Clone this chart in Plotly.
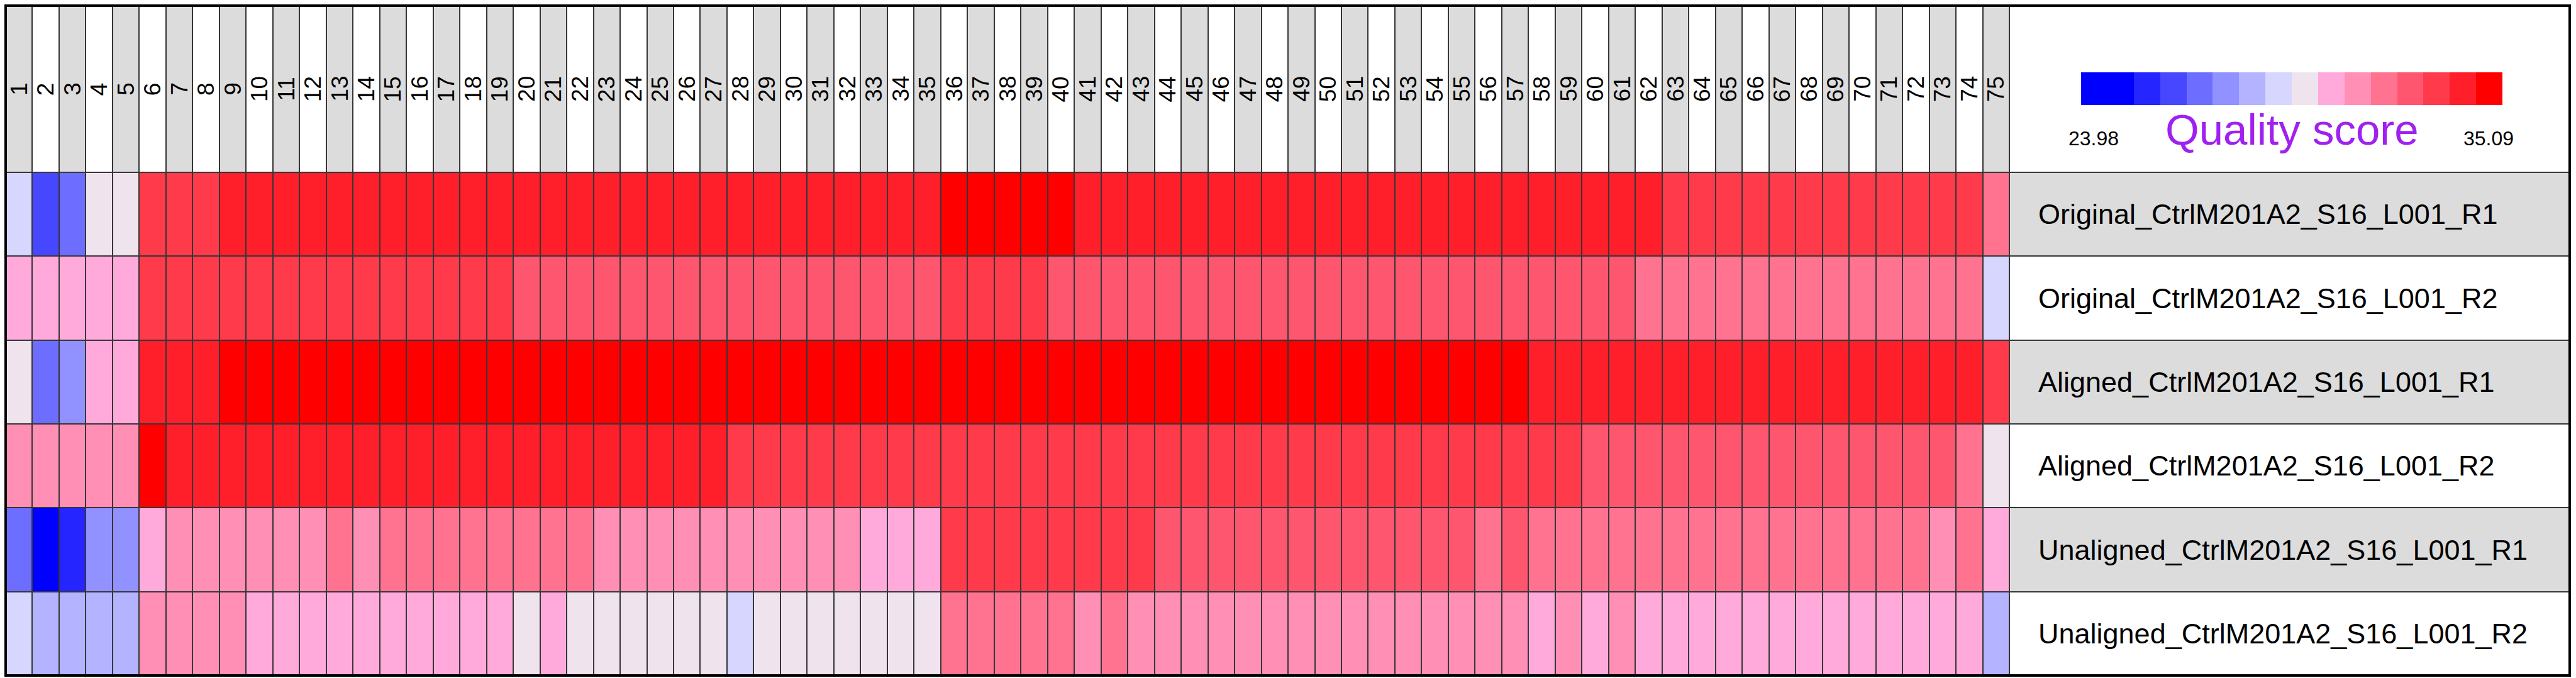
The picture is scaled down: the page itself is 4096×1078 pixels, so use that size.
import plotly.graph_objects as go

# ---------------- data ----------------
cycles = list(range(1, 76))
samples = [
    "Original_CtrlM201A2_S16_L001_R1",
    "Original_CtrlM201A2_S16_L001_R2",
    "Aligned_CtrlM201A2_S16_L001_R1",
    "Aligned_CtrlM201A2_S16_L001_R2",
    "Unaligned_CtrlM201A2_S16_L001_R1",
    "Unaligned_CtrlM201A2_S16_L001_R2",
]

original_r1 = [
    29.19, 26.41, 27.11, 29.88, 29.88, 33.36, 33.36, 33.36, 34.05, 34.05,
    34.05, 34.05, 34.05, 34.05, 34.05, 34.05, 34.05, 34.05, 34.05, 34.05,
    34.05, 34.05, 34.05, 34.05, 34.05, 34.05, 34.05, 34.05, 34.05, 34.05,
    34.05, 34.05, 34.05, 34.05, 34.05, 34.74, 34.74, 34.74, 34.74, 34.74,
    34.05, 34.05, 34.05, 34.05, 34.05, 34.05, 34.05, 34.05, 34.05, 34.05,
    34.05, 34.05, 34.05, 34.05, 34.05, 34.05, 34.05, 34.05, 34.05, 34.05,
    34.05, 34.05, 33.36, 33.36, 33.36, 33.36, 33.36, 33.36, 33.36, 33.36,
    33.36, 33.36, 33.36, 33.36, 31.97,
]
original_r2 = [
    30.58, 30.58, 30.58, 30.58, 30.58, 33.36, 33.36, 33.36, 33.36, 33.36,
    33.36, 33.36, 33.36, 33.36, 33.36, 33.36, 33.36, 33.36, 33.36, 32.66,
    32.66, 32.66, 32.66, 32.66, 32.66, 32.66, 32.66, 32.66, 32.66, 32.66,
    32.66, 32.66, 32.66, 32.66, 32.66, 33.36, 33.36, 33.36, 33.36, 32.66,
    32.66, 32.66, 32.66, 32.66, 32.66, 32.66, 32.66, 32.66, 32.66, 32.66,
    32.66, 32.66, 32.66, 32.66, 32.66, 32.66, 32.66, 32.66, 32.66, 32.66,
    32.66, 31.97, 31.97, 31.97, 31.97, 31.97, 31.97, 31.97, 31.97, 31.97,
    31.97, 31.97, 31.97, 31.97, 29.19,
]
aligned_r1 = [
    29.88, 27.11, 27.80, 30.58, 30.58, 34.05, 34.05, 34.05, 35.09, 34.74,
    34.74, 34.74, 34.74, 34.74, 34.74, 34.74, 34.74, 34.74, 34.74, 34.74,
    34.74, 34.74, 34.74, 34.74, 34.74, 34.74, 34.74, 34.74, 34.74, 34.74,
    34.74, 34.74, 34.74, 34.74, 34.74, 34.74, 34.74, 34.74, 34.74, 34.74,
    34.74, 34.74, 34.74, 34.74, 34.74, 34.74, 34.74, 34.74, 34.74, 34.74,
    34.74, 34.74, 34.74, 34.74, 34.74, 34.74, 34.74, 34.05, 34.05, 34.05,
    34.05, 34.05, 34.05, 34.05, 34.05, 34.05, 34.05, 34.05, 34.05, 34.05,
    34.05, 34.05, 34.05, 34.05, 33.36,
]
aligned_r2 = [
    31.27, 31.27, 31.27, 31.27, 31.27, 34.74, 34.05, 34.05, 34.05, 34.05,
    34.05, 34.05, 34.05, 34.05, 34.05, 34.05, 34.05, 34.05, 34.05, 34.05,
    34.05, 34.05, 34.05, 34.05, 34.05, 34.05, 34.05, 33.36, 33.36, 33.36,
    33.36, 33.36, 33.36, 33.36, 33.36, 33.36, 33.36, 33.36, 33.36, 33.36,
    33.36, 33.36, 33.36, 33.36, 33.36, 33.36, 33.36, 33.36, 33.36, 33.36,
    33.36, 33.36, 33.36, 33.36, 33.36, 33.36, 33.36, 33.36, 33.36, 32.66,
    32.66, 32.66, 32.66, 32.66, 32.66, 32.66, 32.66, 32.66, 32.66, 32.66,
    32.66, 32.66, 32.66, 31.97, 29.88,
]
unaligned_r1 = [
    27.11, 23.98, 25.72, 27.80, 27.80, 30.58, 31.27, 31.27, 31.27, 31.27,
    31.27, 31.27, 31.97, 31.27, 31.97, 31.97, 31.97, 31.97, 31.97, 31.97,
    31.97, 31.97, 31.27, 31.27, 31.27, 31.27, 31.27, 31.27, 31.27, 31.27,
    31.27, 31.27, 30.58, 30.58, 30.58, 33.36, 33.36, 33.36, 33.36, 33.36,
    33.36, 33.36, 33.36, 32.66, 32.66, 32.66, 32.66, 32.66, 32.66, 32.66,
    32.66, 32.66, 32.66, 32.66, 32.66, 31.97, 32.66, 31.97, 31.97, 31.97,
    31.97, 31.97, 31.97, 31.97, 31.97, 31.97, 31.97, 31.97, 31.97, 31.97,
    31.97, 31.97, 31.27, 31.97, 30.58,
]
unaligned_r2 = [
    29.19, 28.49, 28.49, 28.49, 28.49, 31.27, 31.27, 31.27, 31.27, 30.58,
    30.58, 30.58, 30.58, 30.58, 30.58, 30.58, 30.58, 30.58, 30.58, 29.88,
    30.58, 29.88, 29.88, 29.88, 29.88, 29.88, 29.88, 29.19, 29.88, 29.88,
    29.88, 29.88, 29.88, 29.88, 29.88, 31.97, 31.97, 31.97, 31.97, 31.97,
    31.27, 31.97, 31.27, 31.27, 31.27, 31.27, 31.27, 31.27, 31.27, 31.27,
    31.27, 31.27, 31.27, 31.27, 31.27, 31.27, 31.27, 30.58, 31.27, 30.58,
    31.27, 30.58, 30.58, 30.58, 30.58, 30.58, 30.58, 30.58, 30.58, 30.58,
    30.58, 30.58, 30.58, 30.58, 28.49,
]

quality = [original_r1, original_r2, aligned_r1, aligned_r2, unaligned_r1, unaligned_r2]

score_min = 23.98
score_max = 35.09
legend_title = "Quality score"
legend_min_label = "23.98"
legend_max_label = "35.09"

# ---------------- styles ----------------
palette = ['#0000FF', '#2525FF', '#4747FF', '#6D6DFF', '#9191FF', '#B3B3FF', '#D6D6FF',
           '#EFE4EE', '#FFAADB', '#FF8FB5', '#FF7391', '#FF5670', '#FF3A4B', '#FF1F2A', '#FF0000']
n_bins = 16
bin_colors = [palette[0]] + palette
colorscale = []
for i, c in enumerate(bin_colors):
    colorscale.append([i / n_bins, c])
    colorscale.append([(i + 1) / n_bins, c])

W, H = 4096, 1078
ML, MR, MT, MB = 9, 10, 9, 4
PW = W - ML - MR
PH = H - MT - MB


def px_x(px):
    return (px - ML) / PW


def px_y(py):
    return (H - MB - py) / PH


FX = px_x(3195)
FY = px_y(274)
GRID = '#363636'
FONT = 'Liberation Sans, Arial, Helvetica, sans-serif'

fig = go.Figure()

fig.add_trace(go.Heatmap(
    x=cycles, y=samples, z=quality,
    zmin=score_min, zmax=score_max, colorscale=colorscale,
    xgap=2, ygap=2, xaxis='x', yaxis='y',
    hovertemplate='Cycle %{x}<br>%{y}<br>Q=%{z}<extra></extra>',
    colorbar=dict(
        orientation='h', x=px_x(3309), xanchor='left', y=px_y(115), yanchor='top',
        len=(3979 - 3309) / PW, lenmode='fraction', thickness=52,
        xpad=0, ypad=0, outlinewidth=0, showticklabels=False, ticks='',
    ),
))

# header cells (alternating gray / white)
fig.add_trace(go.Heatmap(
    x=cycles, y=[0], z=[[0 if c % 2 else 1 for c in cycles]],
    zmin=0, zmax=1, colorscale=[[0, '#DCDCDC'], [1, '#FFFFFF']],
    showscale=False, xgap=2, xaxis='x', yaxis='y2', hoverinfo='skip',
))

# row label cells (alternating gray / white)
fig.add_trace(go.Heatmap(
    x=[0], y=samples, z=[[0 if i % 2 == 0 else 1] for i in range(len(samples))],
    zmin=0, zmax=1, colorscale=[[0, '#DCDCDC'], [1, '#FFFFFF']],
    showscale=False, ygap=2, xaxis='x2', yaxis='y', hoverinfo='skip',
))

annotations = []
for c in cycles:
    annotations.append(dict(
        x=c, xref='x', y=0.5, yref='y2 domain', text=str(c), textangle=-90,
        showarrow=False, xanchor='center', yanchor='middle',
        font=dict(family=FONT, size=37, color='black'),
    ))
for s in samples:
    annotations.append(dict(
        x=(3239 - 3195) / (4086 - 3195), xref='x2 domain', y=s, yref='y', text=s,
        showarrow=False, xanchor='left', yanchor='middle',
        font=dict(family=FONT, size=45, color='black'),
    ))
annotations.append(dict(x=px_x(3329), y=px_y(219.6), xref='paper', yref='paper',
                        text=legend_min_label, showarrow=False, xanchor='center', yanchor='middle',
                        font=dict(family=FONT, size=32, color='black')))
annotations.append(dict(x=px_x(3957), y=px_y(219.6), xref='paper', yref='paper',
                        text=legend_max_label, showarrow=False, xanchor='center', yanchor='middle',
                        font=dict(family=FONT, size=32, color='black')))
annotations.append(dict(x=px_x(3644), y=px_y(206.8), xref='paper', yref='paper',
                        text=legend_title, showarrow=False, xanchor='center', yanchor='middle',
                        font=dict(family=FONT, size=69, color='#A020F0')))

shapes = [
    dict(type='line', xref='paper', yref='paper', x0=FX, x1=FX, y0=0, y1=1,
         line=dict(color=GRID, width=2), layer='above'),
    dict(type='line', xref='paper', yref='paper', x0=0, x1=1, y0=FY, y1=FY,
         line=dict(color=GRID, width=2), layer='above'),
    dict(type='rect', xref='paper', yref='paper', x0=0, x1=1, y0=0, y1=1,
         line=dict(color='black', width=4), layer='above'),
]

fig.update_layout(
    width=W, height=H,
    margin=dict(l=ML, r=MR, t=MT, b=MB, pad=0),
    paper_bgcolor='white', plot_bgcolor=GRID,
    font=dict(family=FONT),
    xaxis=dict(domain=[0, FX], range=[0.5, 75.5], visible=False, anchor='y', fixedrange=True),
    yaxis=dict(domain=[0, FY], type='category', range=[5.5, -0.5], visible=False, anchor='x', fixedrange=True),
    xaxis2=dict(domain=[FX, 1], range=[-0.5, 0.5], visible=False, anchor='y', fixedrange=True),
    yaxis2=dict(domain=[FY, 1], range=[-0.5, 0.5], visible=False, anchor='x', fixedrange=True),
    annotations=annotations,
    shapes=shapes,
    showlegend=False,
)

fig.write_html("out.html", config={'displayModeBar': False},
               post_script="document.body.style.margin='0';document.body.style.overflow='hidden';")
